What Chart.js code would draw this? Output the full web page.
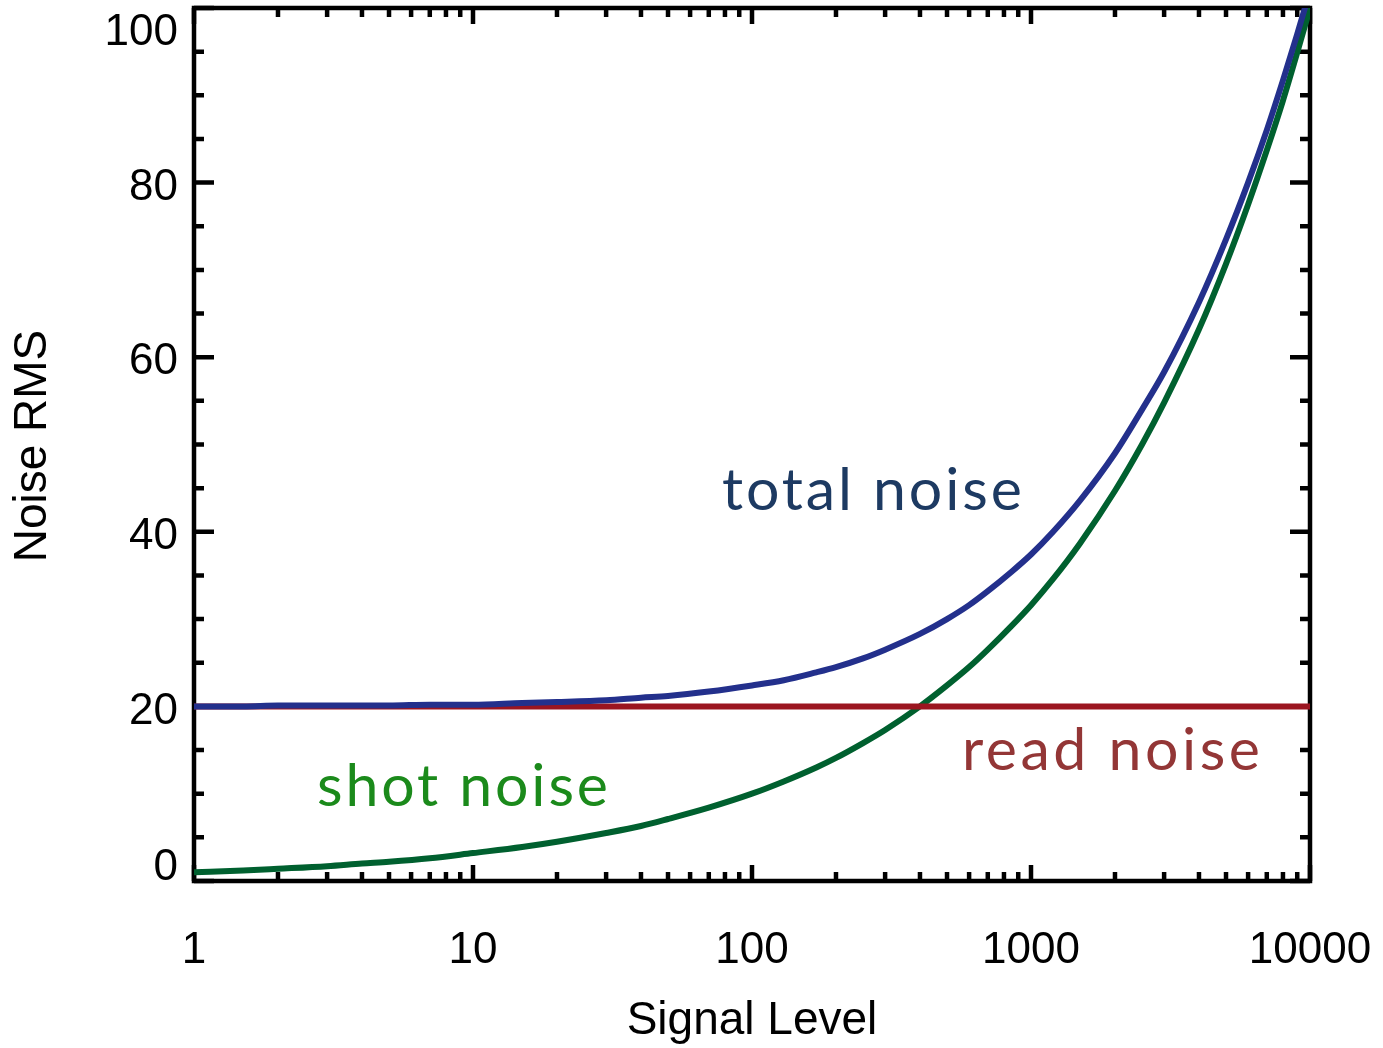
<!DOCTYPE html>
<html>
<head>
<meta charset="utf-8">
<title>Noise vs Signal Level</title>
<script src="https://cdn.jsdelivr.net/npm/chart.js@4.4.1/dist/chart.umd.min.js"></script>
<style>
  html, body { margin: 0; padding: 0; background: #fff; }
  #wrap { width: 1383px; height: 1048px; }
</style>
</head>
<body>
<div id="wrap"><canvas id="noiseChart" width="1383" height="1048"></canvas></div>
<script>
// values
const signalLevels = [1, 1.5, 2, 3, 4, 5, 7, 10, 15, 20, 30, 40, 50, 70, 100, 130, 170, 200, 250, 300, 400, 500, 600, 700, 850,
    1000, 1200, 1500, 2000, 2500, 3000, 4000, 5000, 6000, 7000, 8000, 9000, 10000];
const shotNoise = [1.0, 1.2, 1.4, 1.7, 2.0, 2.2, 2.6, 3.2, 3.9, 4.5, 5.5, 6.3, 7.1, 8.4, 10.0, 11.4, 13.0, 14.1, 15.8, 17.3, 20.0, 22.4, 24.5, 26.5, 29.2,
    31.6, 34.6, 38.7, 44.7, 50.0, 54.8, 63.2, 70.7, 77.5, 83.7, 89.4, 94.9, 100.0];
const totalNoise = [20.0, 20.0, 20.1, 20.1, 20.1, 20.1, 20.2, 20.2, 20.4, 20.5, 20.7, 21.0, 21.2, 21.7, 22.4, 23.0, 23.9, 24.5, 25.5, 26.5, 28.3, 30.0, 31.6, 33.2, 35.4,
    37.4, 40.0, 43.6, 49.0, 54.0, 58.3, 66.3, 73.5, 80.0, 86.0, 91.7, 97.0, 102.0];
const readSignal = [1, 10000];
const readNoise = [20, 20];

const xTickValues = [1, 10, 100, 1000, 10000];
const xTickLabels = ['1', '10', '100', '1000', '10000'];
const yTickValues = [0, 20, 40, 60, 80, 100];
const yTickLabels = ['0', '20', '40', '60', '80', '100'];

const toPoints = (xs, ys) => xs.map((x, i) => ({ x: x, y: ys[i] }));

const annotations = [
    { text: 'total noise', color: '#1d3a62', x: 722, y: 510, width: 300 },
    { text: 'shot noise', color: '#1b8a1b', x: 317, y: 806, width: 291 },
    { text: 'read noise', color: '#933636', x: 962, y: 770, width: 298 }
];

const tickFont = '44px "Liberation Sans", Arial, sans-serif';
const titleFont = '46px "Liberation Sans", Arial, sans-serif';

// frame, ticks and text sit under the curves, like the original
const framePlugin = {
    id: 'idlFrame',
    beforeDatasetsDraw(chart) {
        const ctx = chart.ctx;
        const area = chart.chartArea;
        const xs = chart.scales.x;
        const ys = chart.scales.y;
        ctx.save();

        annotations.forEach(a => {
            ctx.font = '400 59px Lato, "Open Sans", sans-serif';
            ctx.letterSpacing = '0px';
            const w = ctx.measureText(a.text).width;
            const extra = (a.width - w) / (a.text.length - 1);
            ctx.letterSpacing = extra.toFixed(2) + 'px';
            ctx.fillStyle = a.color;
            ctx.textAlign = 'left';
            ctx.textBaseline = 'alphabetic';
            ctx.fillText(a.text, a.x, a.y);
        });
        ctx.letterSpacing = '0px';

        ctx.strokeStyle = '#000';
        ctx.lineWidth = 4.5;
        ctx.strokeRect(area.left, area.top, area.right - area.left, area.bottom - area.top);

        ctx.beginPath();
        for (let d = 1; d < 10000; d *= 10) {
            for (let m = 1; m <= 10; m++) {
                const px = xs.getPixelForValue(d * m);
                const len = (m === 1 || m === 10) ? 16 : 9;
                ctx.moveTo(px, area.bottom);
                ctx.lineTo(px, area.bottom - len);
                ctx.moveTo(px, area.top);
                ctx.lineTo(px, area.top + len);
            }
        }
        for (let v = 0; v <= 100; v += 5) {
            const py = ys.getPixelForValue(v);
            const len = v % 20 === 0 ? 20 : 10;
            ctx.moveTo(area.left, py);
            ctx.lineTo(area.left + len, py);
            ctx.moveTo(area.right, py);
            ctx.lineTo(area.right - len, py);
        }
        ctx.stroke();

        ctx.fillStyle = '#000';
        ctx.font = tickFont;
        ctx.textAlign = 'center';
        ctx.textBaseline = 'middle';
        xTickValues.forEach((v, i) => {
            ctx.fillText(xTickLabels[i], xs.getPixelForValue(v), area.bottom + 70);
        });
        ctx.textAlign = 'right';
        yTickValues.forEach((v, i) => {
            let py = ys.getPixelForValue(v) + 5;
            py = Math.min(Math.max(py, area.top + 25), area.bottom - 13);
            ctx.fillText(yTickLabels[i], area.left - 16, py);
        });

        ctx.font = titleFont;
        ctx.textAlign = 'center';
        ctx.fillText('Signal Level', (area.left + area.right) / 2, 1021);
        ctx.translate(33, 446);
        ctx.rotate(-Math.PI / 2);
        ctx.fillText('Noise RMS', 0, 0);
        ctx.restore();
    }
};

const chart = new Chart(document.getElementById('noiseChart'), {
    type: 'line',
    data: {
        datasets: [
            {
                label: 'total noise',
                data: toPoints(signalLevels, totalNoise),
                borderColor: '#23308c',
                borderWidth: 6,
                pointRadius: 0,
                cubicInterpolationMode: 'monotone',
                order: 0
            },
            {
                label: 'read noise',
                data: toPoints(readSignal, readNoise),
                borderColor: '#9b1520',
                borderWidth: 6,
                pointRadius: 0,
                order: 1
            },
            {
                label: 'shot noise',
                data: toPoints(signalLevels, shotNoise),
                borderColor: '#00602f',
                borderWidth: 6,
                pointRadius: 0,
                cubicInterpolationMode: 'monotone',
                order: 2
            }
        ]
    },
    options: {
        responsive: false,
        animation: false,
        events: [],
        layout: { padding: { left: 194, top: 8, right: 73, bottom: 167 } },
        plugins: {
            legend: { display: false },
            tooltip: { enabled: false }
        },
        scales: {
            x: { type: 'logarithmic', min: 1, max: 10000, display: false },
            y: { type: 'linear', min: 0, max: 100, display: false }
        }
    },
    plugins: [framePlugin]
});
</script>
</body>
</html>
